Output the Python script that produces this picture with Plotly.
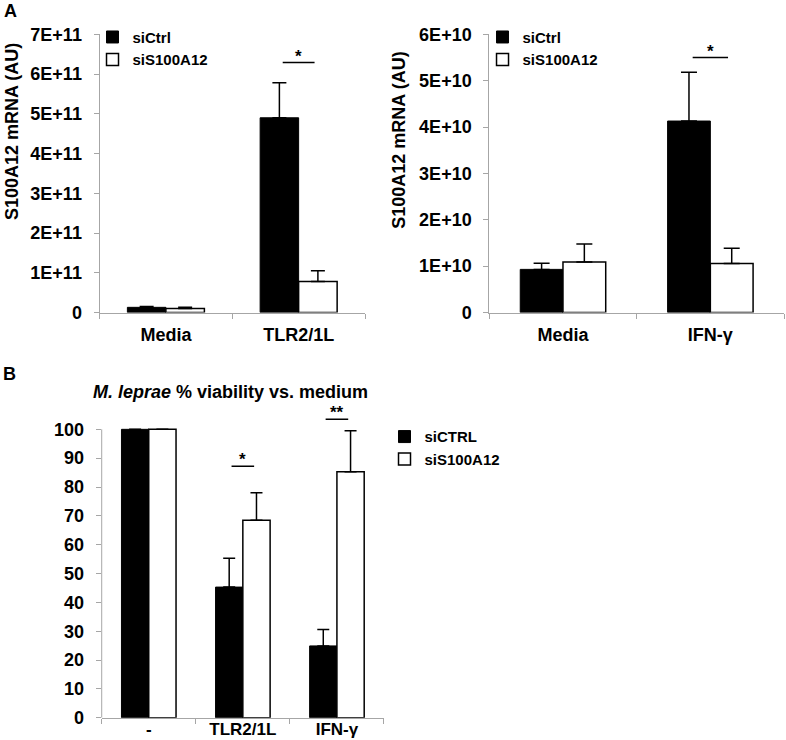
import plotly.graph_objects as go

# ---------------- data ----------------
catsA1 = ["Media", "TLR2/1L"]
a1_ctrl = [1.3e10, 4.9e11]
a1_ctrl_err = [0.2e10, 0.88e11]
a1_si = [1.0e10, 0.78e11]
a1_si_err = [0.3e10, 0.27e11]
a1_tickvals = [0, 1e11, 2e11, 3e11, 4e11, 5e11, 6e11, 7e11]
a1_ticktext = ["0", "1E+11", "2E+11", "3E+11", "4E+11", "5E+11", "6E+11", "7E+11"]

catsA2 = ["Media", "IFN-γ"]
a2_ctrl = [0.93e10, 4.13e10]
a2_ctrl_err = [0.13e10, 1.05e10]
a2_si = [1.09e10, 1.056e10]
a2_si_err = [0.39e10, 0.33e10]
a2_tickvals = [0, 1e10, 2e10, 3e10, 4e10, 5e10, 6e10]
a2_ticktext = ["0", "1E+10", "2E+10", "3E+10", "4E+10", "5E+10", "6E+10"]

catsB = ["-", "TLR2/1L", "IFN-γ"]
b_ctrl = [100, 45.3, 24.9]
b_ctrl_err = [0, 10.0, 5.7]
b_si = [100, 68.5, 85.3]
b_si_err = [0, 9.5, 14.2]
b_tickvals = [0, 10, 20, 30, 40, 50, 60, 70, 80, 90, 100]

FONT = "Liberation Sans, Arial, sans-serif"
AXC = "#a6a6a6"

fig = go.Figure()

def add_pair(cats, ctrl, ctrl_err, si, si_err, xa, ya, legend, names, capw):
    fig.add_trace(go.Bar(
        x=cats, y=ctrl, name=names[0], xaxis=xa, yaxis=ya, legend=legend,
        marker=dict(color="black", line=dict(color="black", width=1)),
        error_y=dict(type="data", symmetric=False, array=ctrl_err,
                     arrayminus=[0] * len(ctrl), color="black", thickness=1.5, width=capw),
    ))
    fig.add_trace(go.Bar(
        x=cats, y=si, name=names[1], xaxis=xa, yaxis=ya, legend=legend,
        marker=dict(color="white", line=dict(color="black", width=1.5)),
        error_y=dict(type="data", symmetric=False, array=si_err,
                     arrayminus=[0] * len(si), color="black", thickness=1.5, width=capw),
    ))

add_pair(catsA1, a1_ctrl, a1_ctrl_err, a1_si, a1_si_err, "x", "y", "legend", ["siCtrl", "siS100A12"], 7)
add_pair(catsA2, a2_ctrl, a2_ctrl_err, a2_si, a2_si_err, "x2", "y2", "legend2", ["siCtrl", "siS100A12"], 8)
add_pair(catsB, b_ctrl, b_ctrl_err, b_si, b_si_err, "x3", "y3", "legend3", ["siCTRL", "siS100A12"], 6)

tickfont = dict(family=FONT, size=18, color="black", weight="bold")
tickfontBx = dict(family=FONT, size=17, color="black", weight="bold")

def xax(domain, anchor, standoff, tf=tickfont):
    return dict(domain=domain, anchor=anchor, showline=True, linecolor=AXC, linewidth=1,
                ticks="outside", tickson="boundaries", ticklen=5, tickcolor=AXC,
                showgrid=False, zeroline=False, tickfont=tf, ticklabelstandoff=standoff,
                automargin=False, fixedrange=True)

def yax(domain, anchor, rng, tv, tt, standoff, showline=True):
    return dict(domain=domain, anchor=anchor, range=rng, tickvals=tv, ticktext=tt,
                showline=showline, linecolor=AXC, linewidth=1, ticks="outside", ticklen=5,
                tickcolor=AXC, showgrid=False, zeroline=False, tickfont=tickfont,
                ticklabelstandoff=standoff, automargin=False, fixedrange=True)

legfont = dict(family=FONT, size=15, color="black", weight="bold")
yA = [0.5777, 0.9536]
fig.update_layout(
    width=786, height=740,
    margin=dict(l=0, r=0, t=0, b=0, autoexpand=False),
    paper_bgcolor="white", plot_bgcolor="white",
    barmode="group", bargap=0.42, bargroupgap=0,
    font=dict(family=FONT, color="black"),
    xaxis=xax([0.1266, 0.4644], "y", 6),
    yaxis=yax(yA, "x", [0, 7e11], a1_tickvals, a1_ticktext, 8),
    xaxis2=xax([0.6225, 0.9975], "y2", 6),
    yaxis2=yax(yA, "x2", [0, 6e10], a2_tickvals, a2_ticktext, 8),
    xaxis3=xax([0.1294, 0.4885], "y3", -4, tickfontBx),
    yaxis3=yax([0.0301, 0.4432], "x3", [0, 106], b_tickvals, [str(v) for v in b_tickvals],
               8, showline=False),
    legend=dict(x=0.1177, y=0.972, xanchor="left", yanchor="top", bgcolor="rgba(0,0,0,0)",
                font=legfont, itemclick=False),
    legend2=dict(x=0.6139, y=0.972, xanchor="left", yanchor="top", bgcolor="rgba(0,0,0,0)",
                 font=legfont, itemclick=False),
    legend3=dict(x=0.4892, y=0.432, xanchor="left", yanchor="top", bgcolor="rgba(0,0,0,0)",
                 font=legfont, itemclick=False),
    showlegend=True,
)

# y axis line of panel B (0..100 only)
fig.add_shape(type="line", xref="x3 domain", yref="y3", x0=0, x1=0, y0=0, y1=100,
              line=dict(color=AXC, width=1))

# significance bars: (xaxis, yaxis, category index, height, label)
sig = [
    ("x", "y", 1, 6.29e11, "*"),
    ("x2", "y2", 1, 5.5e10, "*"),
    ("x3", "y3", 1, 87.2, "*"),
    ("x3", "y3", 2, 103.5, "**"),
]
for xa, ya, ci, yv, txt in sig:
    fig.add_shape(type="line", xref=xa, yref=ya, x0=ci - 0.12, x1=ci + 0.12, y0=yv, y1=yv,
                  line=dict(color="black", width=1.5))
    fig.add_annotation(xref=xa, yref=ya, x=ci, y=yv, text=txt,
                       showarrow=False, yanchor="bottom", yshift=-5,
                       font=dict(family=FONT, size=17, color="black", weight="bold"))

# panel labels
fig.add_annotation(xref="paper", yref="paper", x=0.0135, y=0.985, xanchor="center", yanchor="middle",
                   text="<b>A</b>", showarrow=False, font=dict(family=FONT, size=18, color="black"))
fig.add_annotation(xref="paper", yref="paper", x=0.0125, y=0.4946, xanchor="center", yanchor="middle",
                   text="<b>B</b>", showarrow=False, font=dict(family=FONT, size=18, color="black"))

# y axis titles of panel A
for xp, yp in [(0.0145, 0.822), (0.5075, 0.811)]:
    fig.add_annotation(xref="paper", yref="paper", x=xp, y=yp, textangle=-90,
                       xanchor="center", yanchor="middle",
                       text="<b>S100A12 mRNA (AU)</b>", showarrow=False,
                       font=dict(family=FONT, size=18, color="black"))

# title of panel B
fig.add_annotation(xref="paper", yref="paper", x=0.2933, y=0.4703, xanchor="center", yanchor="middle",
                   text="<b><i>M. leprae</i> % viability vs. medium</b>", showarrow=False,
                   font=dict(family=FONT, size=18, color="black"))

fig.write_html("out.html", config={"displayModeBar": False},
               post_script="document.body.style.margin='0';document.body.style.overflow='hidden';")
